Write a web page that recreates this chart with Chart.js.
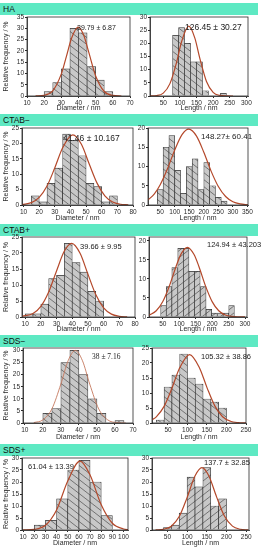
<!DOCTYPE html>
<html>
<head>
<meta charset="utf-8">
<script src="https://cdn.jsdelivr.net/npm/chart.js@4.4.1/dist/chart.umd.min.js"></script>
<style>
  html, body { margin: 0; padding: 0; background: #fff; }
  body { width: 262px; height: 550px; position: relative; overflow: hidden; font-family: "Liberation Sans", Arial, sans-serif; }
  .banner { position: absolute; left: 0; width: 258px; height: 12px; background: #5ee9c3; }
  .banner span { position: absolute; left: 3px; top: 1px; font-size: 8.5px; line-height: 10px; color: #111; }
  .note { position: absolute; white-space: nowrap; line-height: 1; color: #222; }
  canvas { position: absolute; }
</style>
</head>
<body>
<script>
// ---- data (bin centre, % per bin, fitted curve samples) ----
var haDiaBins = [22.5, 27.5, 32.5, 37.5, 42.5, 47.5, 52.5, 57.5];
var haDiaFreq = [2, 6, 12, 30, 28, 13, 7, 2];
var haDiaFitX = [15, 20, 25, 30, 33, 36, 39.8, 43, 46, 50, 55, 60, 65];
var haDiaFitY = [0.02, 0.3, 2.3, 9.8, 17.7, 25.7, 30.5, 27, 19.3, 8.9, 2, 0.24, 0.01];

var haLenBins = [87, 105, 123, 141, 159, 177, 195, 213, 231];
var haLenFreq = [23, 26, 20, 13, 13, 2, 0, 0, 1];
var haLenFitX = [10, 30, 50, 70, 90, 105, 126.5, 145, 160, 180, 200, 220, 240, 260];
var haLenFitY = [0.02, 0.16, 1.1, 4.7, 12.8, 20.6, 26.5, 22, 14.3, 5.5, 1.4, 0.22, 0.02, 0];

var ctabmDiaBins = [17.5, 22.5, 27.5, 32.5, 37.5, 42.5, 47.5, 52.5, 57.5, 62.5, 67.5];
var ctabmDiaFreq = [3, 1, 7, 12, 23, 21, 16, 7, 6, 1, 3];
var ctabmDiaFitX = [9, 15, 20, 25, 30, 35, 41.5, 47, 52, 57, 62, 67, 72, 77];
var ctabmDiaFitY = [0.15, 0.77, 2.46, 6.15, 12.1, 18.6, 22.8, 19.7, 13.3, 7.1, 3, 0.97, 0.25, 0.05];

var ctabmLenBins = [50, 70, 90, 110, 130, 150, 170, 190, 210, 230, 250, 270];
var ctabmLenFreq = [4, 15, 18, 9, 3, 10, 12, 4, 11, 5, 2, 1];
var ctabmLenFitX = [8, 30, 50, 75, 100, 125, 148.3, 175, 200, 225, 250, 275, 300, 325, 352];
var ctabmLenFitY = [1.3, 2.9, 5.25, 9.4, 14.3, 18.3, 19.7, 17.9, 13.7, 8.8, 4.8, 2.2, 0.84, 0.27, 0.07];

var ctabpDiaBins = [12.5, 17.5, 22.5, 27.5, 32.5, 37.5, 42.5, 47.5, 52.5, 57.5];
var ctabpDiaFreq = [1, 1, 4, 12, 13, 23, 17, 14, 8, 5];
var ctabpDiaFitX = [8, 15, 20, 25, 30, 35, 39.7, 45, 50, 55, 60, 65, 70, 75];
var ctabpDiaFitY = [0.2, 1.07, 3.3, 7.8, 14.4, 20.6, 23, 19.9, 13.4, 7, 2.85, 0.9, 0.22, 0.04];

var ctabpLenBins = [52, 69, 86, 104, 121, 138, 155, 173, 190, 207, 225, 242, 259];
var ctabpLenFreq = [3, 8, 13, 18, 18, 12, 12, 8, 2, 1, 1, 1, 3];
var ctabpLenFitX = [8, 30, 50, 70, 90, 105, 124.9, 145, 160, 180, 200, 220, 240, 260, 280, 300];
var ctabpLenFitY = [0.47, 1.63, 4.06, 8.15, 13.2, 16.45, 18.3, 16.4, 13.2, 8.1, 4.04, 1.63, 0.53, 0.14, 0.03, 0.01];

var sdsmDiaBins = [22.5, 27.5, 32.5, 37.5, 42.5, 47.5, 52.5, 57.5, 62.5];
var sdsmDiaFreq = [4, 6, 25, 30, 20, 10, 4, 0, 1];
var sdsmDiaFitX = [15, 20, 25, 30, 34, 38, 42, 46, 51, 56, 61, 66];
var sdsmDiaFitY = [0.17, 1.27, 5.8, 16.1, 25.7, 30, 25.7, 16.1, 5.8, 1.27, 0.17, 0.01];

var sdsmLenBins = [30, 50, 70, 90, 110, 130, 150, 170, 190];
var sdsmLenFreq = [1, 12, 16, 23, 15, 13, 8, 7, 5];
var sdsmLenFitX = [10, 20, 40, 60, 80, 105.3, 130, 150, 170, 190, 210, 230, 250];
var sdsmLenFitY = [1.1, 2.05, 5.55, 11.55, 18.4, 22.8, 18.6, 11.8, 5.7, 2.1, 0.6, 0.13, 0.02];

var sdspDiaBins = [25, 35, 45, 55, 65, 75, 85];
var sdspDiaFreq = [2, 4, 13, 25, 29, 20, 6];
var sdspDiaFitX = [10, 20, 30, 40, 50, 61, 70, 80, 90, 100, 105];
var sdspDiaFitY = [0.02, 0.26, 1.95, 8.35, 20.4, 28.7, 22.9, 10.5, 2.8, 0.42, 0.13];

var sdspLenBins = [50, 70, 90, 110, 130, 150, 170, 190];
var sdspLenFreq = [1, 2, 7, 22, 18, 26, 10, 13];
var sdspLenFitX = [20, 40, 60, 80, 100, 120, 137.7, 155, 175, 195, 215, 235, 255];
var sdspLenFitY = [0.04, 0.31, 1.6, 5.6, 13.5, 22.5, 26, 22.6, 13.7, 5.7, 1.6, 0.32, 0.04];

// tick labels
var diaTicks70 = [10, 20, 30, 40, 50, 60, 70];
var diaTicks80 = [10, 20, 30, 40, 50, 60, 70, 80];
var diaTicks100 = [10, 20, 30, 40, 50, 60, 70, 80, 90, 100];
var lenTicks250 = [50, 100, 150, 200, 250];
var lenTicks300 = [50, 100, 150, 200, 250, 300];
var lenTicks350 = [50, 100, 150, 200, 250, 300, 350];
var freqTicks20 = [0, 5, 10, 15, 20];
var freqTicks25 = [0, 5, 10, 15, 20, 25];
var freqTicks30 = [0, 5, 10, 15, 20, 25, 30];
var freqTicks35 = [0, 5, 10, 15, 20, 25, 30, 35];

var sampleNames = ['HA', 'CTAB\u2212', 'CTAB+', 'SDS\u2212', 'SDS+'];
var fitLabels = [
    ['39.79 \u00b1 6.87', '126.45 \u00b1 30.27'],
    ['41.46 \u00b1 10.167', '148.27\u00b1 60.41'],
    ['39.66 \u00b1 9.95', '124.94 \u00b1 43.203'],
    ['38 \u00b1 7.16', '105.32 \u00b1 38.86'],
    ['61.04 \u00b1 13.39', '137.7 \u00b1 32.85']
];

// ---- layout of the five rows (page pixels) ----
var rows = [
    { banner: 3,   top: 17,  bottom: 96,  xh: 16, left: [27, 130], right: [150, 248] },
    { banner: 114, top: 128, bottom: 205, xh: 17, left: [22, 133], right: [148, 248] },
    { banner: 224, top: 237, bottom: 317, xh: 16, left: [22, 135], right: [149, 247] },
    { banner: 335, top: 348, bottom: 423, xh: 18, left: [23, 133], right: [152, 246] },
    { banner: 444, top: 458, bottom: 530, xh: 17, left: [22, 128], right: [152, 249] }
];

var panels = [
    { row: 0, side: 'left',  bins: haDiaBins, freq: haDiaFreq, fitX: haDiaFitX, fitY: haDiaFitY, xMin: 10, xMax: 70, xTicks: diaTicks70, yMax: 35, yTicks: freqTicks35, hatch: 'back',
      note: { x: 77, y: 24, size: 7 } },
    { row: 0, side: 'right', bins: haLenBins, freq: haLenFreq, fitX: haLenFitX, fitY: haLenFitY, xMin: 10, xMax: 305, xTicks: lenTicks300, yMax: 30, yTicks: freqTicks30, hatch: 'back',
      note: { x: 185, y: 23, size: 8.5 } },
    { row: 1, side: 'left',  bins: ctabmDiaBins, freq: ctabmDiaFreq, fitX: ctabmDiaFitX, fitY: ctabmDiaFitY, xMin: 9, xMax: 80, xTicks: diaTicks80, yMax: 25, yTicks: freqTicks25, hatch: 'back',
      note: { x: 63, y: 134, size: 8.5 } },
    { row: 1, side: 'right', bins: ctabmLenBins, freq: ctabmLenFreq, fitX: ctabmLenFitX, fitY: ctabmLenFitY, xMin: 8, xMax: 352, xTicks: lenTicks350, yMax: 20, yTicks: freqTicks20, hatch: 'back',
      note: { x: 201, y: 133, size: 8 } },
    { row: 2, side: 'left',  bins: ctabpDiaBins, freq: ctabpDiaFreq, fitX: ctabpDiaFitX, fitY: ctabpDiaFitY, xMin: 8, xMax: 80, xTicks: diaTicks80, yMax: 25, yTicks: freqTicks25, hatch: 'back',
      note: { x: 80, y: 243, size: 7.5 } },
    { row: 2, side: 'right', bins: ctabpLenBins, freq: ctabpLenFreq, fitX: ctabpLenFitX, fitY: ctabpLenFitY, xMin: 8, xMax: 306, xTicks: lenTicks300, yMax: 21, yTicks: freqTicks20, hatch: 'fwd',
      note: { x: 207, y: 241, size: 7.5 } },
    { row: 3, side: 'left',  bins: sdsmDiaBins, freq: sdsmDiaFreq, fitX: sdsmDiaFitX, fitY: sdsmDiaFitY, xMin: 9, xMax: 70, xTicks: diaTicks70, yMax: 31, yTicks: freqTicks30, hatch: 'back',
      note: { x: 92, y: 353, size: 7.5, serif: true }, fitColor: '#c5785e', fitWidth: 0.9 },
    { row: 3, side: 'right', bins: sdsmLenBins, freq: sdsmLenFreq, fitX: sdsmLenFitX, fitY: sdsmLenFitY, xMin: 9, xMax: 250, xTicks: lenTicks250, yMax: 25, yTicks: freqTicks25, hatch: 'back',
      note: { x: 201, y: 353, size: 7.5 } },
    { row: 4, side: 'left',  bins: sdspDiaBins, freq: sdspDiaFreq, fitX: sdspDiaFitX, fitY: sdspDiaFitY, xMin: 9, xMax: 104, xTicks: diaTicks100, yMax: 30, yTicks: freqTicks30, hatch: 'back',
      note: { x: 28, y: 463, size: 7.5 } },
    { row: 4, side: 'right', bins: sdspLenBins, freq: sdspLenFreq, fitX: sdspLenFitX, fitY: sdspLenFitY, xMin: 11, xMax: 257, xTicks: lenTicks250, yMax: 30, yTicks: freqTicks30, hatch: 'fwd',
      note: { x: 204, y: 459, size: 7.5 } }
];

var FONT = '"Liberation Sans", Arial, sans-serif';
var INK = '#2a2a2a';

function makeHatch(dir) {
    var c = document.createElement('canvas');
    c.width = 9;
    c.height = 7;
    var g = c.getContext('2d');
    g.fillStyle = '#c8c8c8';
    g.fillRect(0, 0, 9, 7);
    g.strokeStyle = '#4d4d4d';
    g.lineWidth = 0.7;
    g.beginPath();
    if (dir === 'back') {
        g.moveTo(-9, -7); g.lineTo(18, 14);
        g.moveTo(0, -7); g.lineTo(18, 7);
        g.moveTo(-9, 0); g.lineTo(9, 14);
    } else {
        g.moveTo(-9, 14); g.lineTo(18, -7);
        g.moveTo(0, 14); g.lineTo(18, 0);
        g.moveTo(-9, 7); g.lineTo(9, -7);
    }
    g.stroke();
    return g.createPattern(c, 'repeat');
}

var frameBox = {
    id: 'frameBox',
    afterDraw: function (chart) {
        var a = chart.chartArea, ctx = chart.ctx;
        ctx.save();
        ctx.strokeStyle = INK;
        ctx.lineWidth = 0.8;
        ctx.strokeRect(a.left, a.top, a.right - a.left, a.bottom - a.top);
        ctx.restore();
    }
};

function fixedTicks(list) {
    return function (scale) {
        scale.ticks = list.map(function (v) { return { value: v }; });
    };
}

function addBanner(name, y) {
    var b = document.createElement('div');
    b.className = 'banner';
    b.style.top = y + 'px';
    var s = document.createElement('span');
    s.textContent = name;
    b.appendChild(s);
    document.body.appendChild(b);
}

function addNote(text, n) {
    var d = document.createElement('div');
    d.className = 'note';
    d.textContent = text;
    d.style.left = n.x + 'px';
    d.style.top = n.y + 'px';
    d.style.fontSize = n.size + 'px';
    if (n.serif) d.style.fontFamily = '"Liberation Serif", "Times New Roman", serif';
    document.body.appendChild(d);
}

function drawPanel(p) {
    var r = rows[p.row];
    var isLeft = p.side === 'left';
    var frame = isLeft ? r.left : r.right;
    var canvasLeft = isLeft ? 0 : 131;
    var canvasRight = isLeft ? frame[1] + 8 : 262;
    var padTop = 5;

    var canvas = document.createElement('canvas');
    var w = canvasRight - canvasLeft;
    var h = (r.bottom - r.top) + padTop + r.xh;
    canvas.width = w;
    canvas.height = h;
    canvas.style.left = canvasLeft + 'px';
    canvas.style.top = (r.top - padTop) + 'px';
    canvas.style.width = w + 'px';
    canvas.style.height = h + 'px';
    document.body.appendChild(canvas);

    var yWidth = frame[0] - canvasLeft;
    var tickFont = { family: FONT, size: 6.5 };
    var titleFont = { family: FONT, size: 7 };

    new Chart(canvas.getContext('2d'), {
        type: 'bar',
        data: {
            datasets: [
                {
                    type: 'line',
                    data: p.fitX.map(function (x, i) { return { x: x, y: p.fitY[i] }; }),
                    borderColor: p.fitColor || '#b4482a',
                    borderWidth: p.fitWidth || 1.2,
                    pointRadius: 0,
                    cubicInterpolationMode: 'monotone',
                    fill: false,
                    order: 0
                },
                {
                    type: 'bar',
                    data: p.bins.map(function (x, i) { return { x: x, y: p.freq[i] }; }),
                    backgroundColor: makeHatch(p.hatch),
                    borderColor: '#333',
                    borderWidth: 0.7,
                    barPercentage: 1,
                    categoryPercentage: 1,
                    order: 1
                }
            ]
        },
        options: {
            responsive: false,
            animation: false,
            devicePixelRatio: 1,
            layout: { padding: { top: padTop, right: canvasRight - frame[1], left: 0, bottom: 0 } },
            plugins: { legend: { display: false }, tooltip: { enabled: false } },
            scales: {
                x: {
                    type: 'linear',
                    min: p.xMin,
                    max: p.xMax,
                    offset: false,
                    grid: { offset: false, drawOnChartArea: false, tickLength: 2, color: INK },
                    border: { color: INK, width: 0.8 },
                    ticks: { font: tickFont, color: INK, padding: 1, maxRotation: 0, autoSkip: false },
                    afterBuildTicks: fixedTicks(p.xTicks),
                    afterFit: function (s) { s.height = r.xh; },
                    title: { display: true, text: isLeft ? 'Diameter / nm' : 'Length / nm', font: titleFont, color: INK, padding: 0 }
                },
                y: {
                    min: 0,
                    max: p.yMax,
                    grid: { drawOnChartArea: false, tickLength: 2, color: INK },
                    border: { color: INK, width: 0.8 },
                    ticks: { font: tickFont, color: INK, padding: 1, autoSkip: false },
                    afterBuildTicks: fixedTicks(p.yTicks),
                    afterFit: function (s) { s.width = yWidth; },
                    title: { display: isLeft, text: 'Relative frequency / %', font: titleFont, color: INK, padding: { top: 2, bottom: 0 } }
                }
            }
        },
        plugins: [frameBox]
    });

    addNote(fitLabels[p.row][isLeft ? 0 : 1], p.note);
}

rows.forEach(function (r, i) { addBanner(sampleNames[i], r.banner); });
panels.forEach(drawPanel);
</script>
</body>
</html>
